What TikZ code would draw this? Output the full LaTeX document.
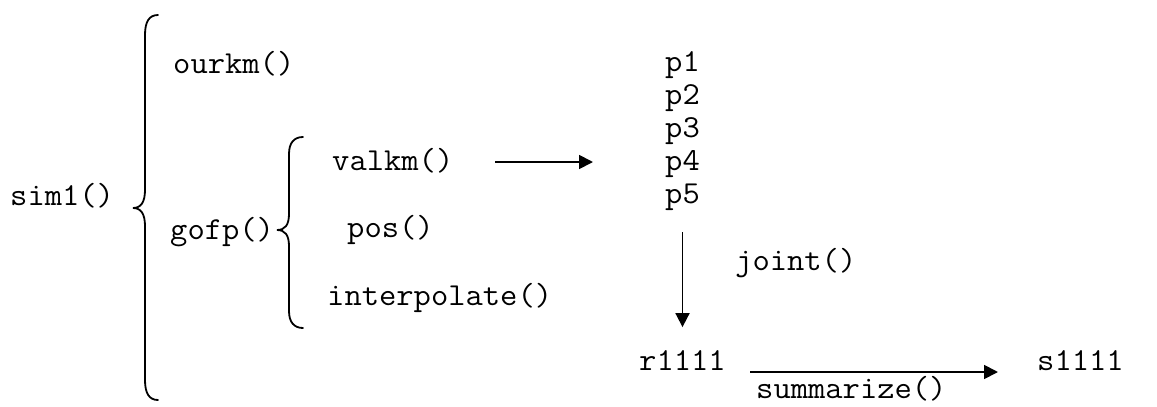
\documentclass[tikz,border=0pt]{standalone}
\usepackage{fontspec}
\newfontfamily\codefont[FakeStretch=1.05]{Latin Modern Mono}
\usetikzlibrary{arrows.meta}
\begin{document}
\begin{tikzpicture}[x=1pt,y=-1pt,
  lbl/.style={anchor=base west,inner sep=0pt,font=\codefont\fontsize{32}{36}\selectfont,text height=16.7pt,text depth=5.6pt},
  brace/.style={line width=1.8pt,line cap=round},
  arr/.style={line width=1.8pt,-{Triangle[length=14pt,width=14pt]}}]
\useasboundingbox[fill=white] (0,0) rectangle (1157,407);
% nodes
\node[lbl] (sim) at (10,205) {sim1()};
\node[lbl] (ourkm) at (173,73) {ourkm()};
\node[lbl] (gofp) at (170,239) {gofp()};
\node[lbl] (valkm) at (332,170) {valkm()};
\node[lbl] (pos) at (347,237) {pos()};
\node[lbl] (interp) at (327,305) {interpolate()};
\node[lbl] (p1) at (665,71) {p1};
\node[lbl] (p2) at (665,104) {p2};
\node[lbl] (p3) at (665,137) {p3};
\node[lbl] (p4) at (665,170) {p4};
\node[lbl] (p5) at (665,203) {p5};
\node[lbl] (joint) at (735,270) {joint()};
\node[lbl] (r) at (639,370) {r1111};
\node[lbl] (s) at (1037,370) {s1111};
\node[lbl] (summ) at (756,398) {summarize()};
% braces
\draw[brace] (158,15) .. controls (149,15) and (145,22) .. (145,35) -- (145,190)
  .. controls (145,202) and (141,208) .. (133,208)
  .. controls (141,208) and (145,214) .. (145,226) -- (145,380)
  .. controls (145,393) and (149,400) .. (158,400);
\draw[brace] (303,137) .. controls (294,137) and (289,143) .. (289,154) -- (289,214)
  .. controls (289,225) and (285,230) .. (277,230)
  .. controls (285,230) and (289,235) .. (289,246) -- (289,311)
  .. controls (289,322) and (294,328) .. (303,328);
% connectors
\draw[arr] ([shift={(163pt,8pt)}]valkm.base west) -- ([shift={(-72pt,8pt)}]valkm.base west -| p3.base west);
\draw[arr,shorten <=23.4pt,shorten >=26pt] (p5.south) -- (p5.south |- r.north);
\draw[arr] ([shift={(111pt,-2pt)}]r.base west) -- ([shift={(-39pt,-2pt)}]s.base west);
\end{tikzpicture}
\end{document}
